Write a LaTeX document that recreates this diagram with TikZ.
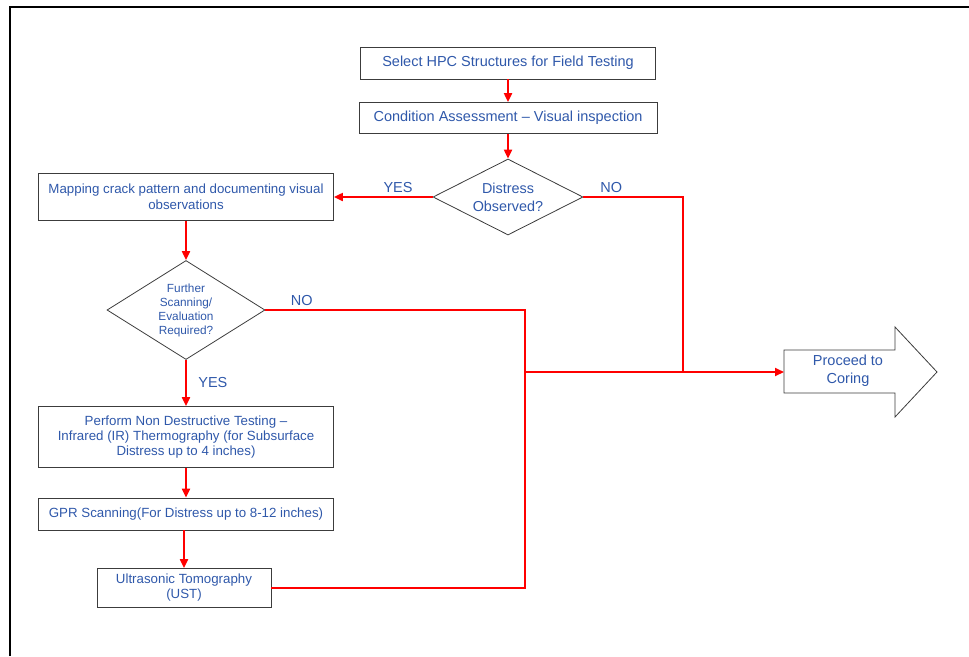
\documentclass[tikz,border=0pt]{standalone}
\usepackage{fontspec}
\setmainfont{Liberation Sans}
\usepackage{tikz}
\usetikzlibrary{arrows.meta,positioning,calc,shapes.geometric}
\usepackage{xcolor}
\definecolor{txtblue}{RGB}{47,88,170}
\definecolor{boxgray}{RGB}{60,60,60}
\definecolor{flowred}{RGB}{255,0,0}

\begin{document}
\begin{tikzpicture}[x=1pt,y=-1pt,
    box/.style={draw=boxgray,line width=0.8pt,text=txtblue,align=center,inner sep=1pt},
    decision/.style={diamond,draw=boxgray,line width=0.8pt,text=txtblue,align=center,inner sep=0pt},
    lbl/.style={text=txtblue,font=\fontsize{14.5}{17}\selectfont},
    link/.style={draw=flowred,line width=2pt},
    flow/.style={link,-{Triangle[width=8pt,length=9pt]}}]
                    \useasboundingbox (0,0) rectangle (969,656);
                    \draw[line width=2.6pt] (10,656) -- (10,7) -- (969,7);
                    \node[box,minimum width=295pt,minimum height=32pt,font=\fontsize{14.5}{17}\selectfont] (select) at (508,63) {Select HPC Structures for Field Testing};
                    \node[box,minimum width=298pt,minimum height=31pt,font=\fontsize{14.5}{17}\selectfont] (assess) at (508,118) {Condition Assessment -- Visual inspection};
                    \node[decision,shape aspect=2,minimum width=150pt,minimum height=76pt,font=\fontsize{14.4}{18}\selectfont] (distress) at (508,197) {Distress\\Observed?};
                    \node[box,minimum width=295pt,minimum height=47pt,font=\fontsize{13.3}{16}\selectfont] (mapping) at (186,197) {Mapping crack pattern and documenting visual\\observations};
                    \node[decision,shape aspect=1.6,minimum width=158pt,minimum height=99pt,font=\fontsize{11.8}{14}\selectfont] (further) at (186,310) {Further\\Scanning/\\Evaluation\\Required?};
                    \node[box,minimum width=295pt,minimum height=61pt,font=\fontsize{13.3}{15}\selectfont] (ndt) at (186,437) {Perform Non Destructive Testing --\\Infrared (IR) Thermography (for Subsurface\\Distress up to 4 inches)};
                    \node[box,minimum width=295pt,minimum height=32pt,font=\fontsize{13.3}{16}\selectfont] (gpr) at (186,514) {GPR Scanning(For Distress up to 8-12 inches)};
                    \node[box,minimum width=174pt,minimum height=39pt,font=\fontsize{13.3}{15}\selectfont] (ust) at (184,588) {Ultrasonic Tomography\\(UST)};
                    \draw[boxgray,line width=0.8pt,fill=white] (784,350) -- (895,350) -- (895,327) -- (937,372) -- (895,417) -- (895,393) -- (784,393) -- cycle;
                    \node[text=txtblue,align=center,font=\fontsize{14.5}{18}\selectfont] (coringtext) at (848,371) {Proceed to\\Coring};
                    \coordinate (coring) at (784,372);
                    \coordinate (jn1) at (683,372);
                    \coordinate (jn2) at (525,372);
                    \draw[flow] (select.south) -- (select.south |- assess.north);
                    \draw[flow] (assess) -- (distress);
                    \draw[flow] (distress.west) -- node[lbl,above,pos=0.35] {YES} (distress.west -| mapping.east);
                    \draw[flow] (mapping) -- (further);
                    \draw[flow] (further) -- node[lbl,right,xshift=8pt] {YES} (ndt);
                    \draw[flow] (ndt) -- (gpr);
                    \draw[flow] (gpr.south -| ust.north) -- (ust);
                    \draw[link] (distress.east) -- node[lbl,above,pos=0.28] {NO} (distress.east -| jn1) -- (jn1);
                    \draw[link] (further.east) -- node[lbl,above,pos=0.14] {NO} (further.east -| jn2) -- (jn2 |- ust.east) -- (ust.east);
                    \draw[flow] (jn2) -- (coring);
                \end{tikzpicture}
\end{document}
